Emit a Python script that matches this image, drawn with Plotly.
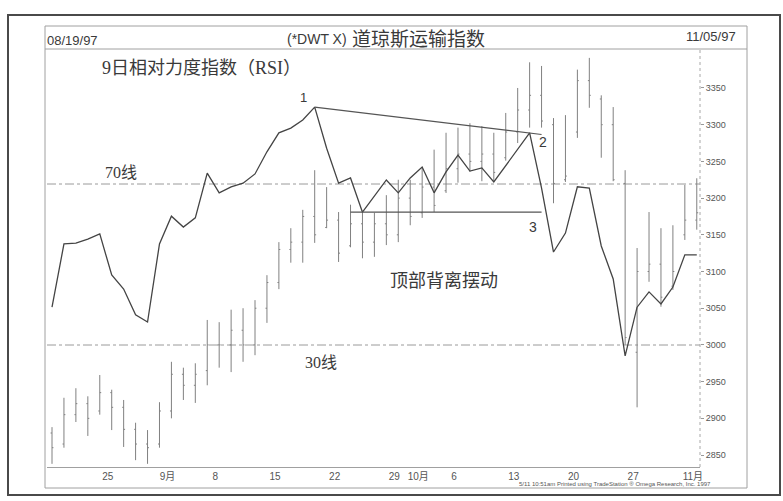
import plotly.graph_objects as go

# ---------------- data ----------------
dates = [
    "1997-08-19", "1997-08-20", "1997-08-21", "1997-08-22", "1997-08-25", "1997-08-26",
    "1997-08-27", "1997-08-28", "1997-08-29", "1997-09-02", "1997-09-03", "1997-09-04",
    "1997-09-05", "1997-09-08", "1997-09-09", "1997-09-10", "1997-09-11", "1997-09-12",
    "1997-09-15", "1997-09-16", "1997-09-17", "1997-09-18", "1997-09-19", "1997-09-22",
    "1997-09-23", "1997-09-24", "1997-09-25", "1997-09-26", "1997-09-29", "1997-09-30",
    "1997-10-01", "1997-10-02", "1997-10-03", "1997-10-06", "1997-10-07", "1997-10-08",
    "1997-10-09", "1997-10-10", "1997-10-13", "1997-10-14", "1997-10-15", "1997-10-16",
    "1997-10-17", "1997-10-20", "1997-10-21", "1997-10-22", "1997-10-23", "1997-10-24",
    "1997-10-27", "1997-10-28", "1997-10-29", "1997-10-30", "1997-10-31", "1997-11-03",
    "1997-11-04",
]

price_high = [
    2888, 2928, 2941, 2930, 2959, 2939, 2925, 2894, 2884, 2922, 2977, 2969,
    2975, 3034, 3031, 3048, 3050, 3061, 3095, 3140, 3159, 3184, 3238, 3215,
    3181, 3191, 3181, 3180, 3204, 3225, 3225, 3242, 3266, 3289, 3296, 3302,
    3298, 3289, 3316, 3350, 3385, 3380, 3309, 3313, 3375, 3391, 3340, 3324,
    3238, 3132, 3181, 3159, 3163, 3218, 3227,
]
price_low = [
    2838, 2860, 2895, 2876, 2905, 2884, 2861, 2843, 2838, 2860, 2900, 2925,
    2921, 2945, 2969, 2963, 2977, 2986, 3030, 3076, 3112, 3112, 3139, 3159,
    3113, 3133, 3118, 3120, 3136, 3140, 3163, 3173, 3181, 3207, 3221, 3236,
    3223, 3223, 3251, 3275, 3296, 3296, 3193, 3222, 3282, 3323, 3255, 3223,
    3000, 2915, 3086, 3052, 3075, 3143, 3157,
]
price_open = [
    2880, 2865, 2905, 2920, 2910, 2935, 2915, 2885, 2865, 2865, 2910, 2960,
    2945, 2965, 3000, 3000, 3020, 3000, 3050, 3085, 3130, 3140, 3175, 3160,
    3170, 3135, 3165, 3140, 3165, 3150, 3200, 3180, 3215, 3210, 3240, 3260,
    3250, 3260, 3255, 3290, 3320, 3340, 3300, 3225, 3290, 3360, 3335, 3300,
    3220, 2990, 3100, 3110, 3080, 3150, 3170,
]
price_close = [
    2860, 2905, 2920, 2900, 2935, 2915, 2885, 2865, 2860, 2910, 2960, 2945,
    2960, 3000, 3000, 3020, 3000, 3050, 3085, 3130, 3140, 3175, 3150, 3170,
    3125, 3165, 3140, 3165, 3150, 3200, 3175, 3215, 3190, 3240, 3260, 3250,
    3260, 3235, 3290, 3320, 3340, 3305, 3220, 3230, 3360, 3340, 3300, 3225,
    3010, 3100, 3110, 3065, 3100, 3170, 3180,
]

rsi9 = [
    39.4, 55.1, 55.3, 56.3, 57.6, 47.4, 43.9, 37.5, 35.7, 55.1, 62.0, 59.3,
    61.6, 72.7, 67.8, 69.3, 70.2, 72.5, 78.0, 82.7, 83.9, 85.9, 89.1, 78.9,
    70.2, 71.5, 63.0, 67.0, 71.0, 67.8, 71.5, 74.2, 67.8, 73.0, 77.2, 73.2,
    74.0, 70.5, 74.5, 78.4, 82.7, 69.0, 53.1, 57.8, 69.3, 69.0, 54.6, 46.4,
    27.3, 39.4, 43.2, 40.2, 44.4, 52.4, 52.4,
]

# divergence trend line (peak 1 -> peak 2) and support line through the swing low
trend_x = ["1997-09-19", "1997-10-16"]
trend_y = [89.1, 82.3]
support_x = ["1997-09-24", "1997-10-16"]
support_y = [63.0, 63.0]

rsi_levels = [70, 30]

x_tick_dates = ["1997-08-25", "1997-09-02", "1997-09-08", "1997-09-15", "1997-09-22",
                "1997-09-29", "1997-10-01", "1997-10-06", "1997-10-13", "1997-10-20",
                "1997-10-27", "1997-11-03"]
x_tick_text = ["25", "9月", "8", "15", "22", "29", "10月", "6", "13", "20", "27", "11月"]
y_ticks = [2850, 2900, 2950, 3000, 3050, 3100, 3150, 3200, 3250, 3300, 3350]

# ---------------- layout helpers ----------------
W, H = 783, 501
L, R, T, B = 47, 83, 49, 34
PW, PH = W - L - R, H - T - B


def px(x):
    return (x - L) / PW


def py(y):
    return (H - B - y) / PH


CJK = "Noto Sans CJK SC"
SERIF = "Liberation Serif, Noto Sans CJK SC"
SANS = "Liberation Sans, Noto Sans CJK SC"
INK = "#3a3a3a"

fig = go.Figure()

fig.add_trace(go.Ohlc(
    x=dates, open=price_open, high=price_high, low=price_low, close=price_close,
    increasing=dict(line=dict(color="#808080", width=1)),
    decreasing=dict(line=dict(color="#808080", width=1)),
    tickwidth=0.12, showlegend=False, hoverinfo="skip", yaxis="y",
))

fig.add_trace(go.Scatter(
    x=dates, y=rsi9, mode="lines", line=dict(color="#444444", width=1.3),
    yaxis="y2", showlegend=False, hoverinfo="skip",
))
fig.add_trace(go.Scatter(
    x=trend_x, y=trend_y, mode="lines", line=dict(color="#555555", width=1.2),
    yaxis="y2", showlegend=False, hoverinfo="skip",
))
fig.add_trace(go.Scatter(
    x=support_x, y=support_y, mode="lines", line=dict(color="#555555", width=1.2),
    yaxis="y2", showlegend=False, hoverinfo="skip",
))

shapes = []
for lvl in rsi_levels:
    shapes.append(dict(type="line", xref="paper", yref="y2", x0=0, x1=1, y0=lvl, y1=lvl,
                       line=dict(color="#9a9a9a", width=1, dash="dashdot"), layer="below"))
# outer frame
shapes.append(dict(type="rect", xref="paper", yref="paper", x0=px(8), x1=px(780),
                   y0=py(495), y1=py(15), line=dict(color="#4a4a4a", width=2)))
# inner frame
shapes.append(dict(type="rect", xref="paper", yref="paper", x0=px(45), x1=px(747),
                   y0=py(488), y1=py(26), line=dict(color="#a0a0a0", width=1)))
# header separator
shapes.append(dict(type="line", xref="paper", yref="paper", x0=px(45), x1=px(747),
                   y0=py(49), y1=py(49), line=dict(color="#a0a0a0", width=1)))
# right price scale divider
shapes.append(dict(type="line", xref="paper", yref="paper", x0=1, x1=1,
                   y0=0, y1=1, line=dict(color="#a8a8a8", width=1, dash="dot")))

annotations = [
    dict(text="08/19/97", x=px(45), y=py(40), xanchor="left", yanchor="middle",
         font=dict(family=SANS, size=13, color=INK)),
    dict(text="(*DWT X)", x=px(349), y=py(39), xanchor="right", yanchor="middle",
         font=dict(family=SANS, size=14, color=INK)),
    dict(text="道琼斯运输指数", x=px(350), y=py(38), xanchor="left", yanchor="middle",
         font=dict(family=CJK, size=19, color=INK)),
    dict(text="11/05/97", x=px(738), y=py(36), xanchor="right", yanchor="middle",
         font=dict(family=SANS, size=13, color=INK)),
    dict(text="9日相对力度指数（RSI）", x=px(100), y=py(68), xanchor="left", yanchor="middle",
         font=dict(family=SERIF, size=18, color=INK)),
    dict(text="70线", x=px(103), y=py(172), xanchor="left", yanchor="middle",
         font=dict(family=SERIF, size=16, color=INK)),
    dict(text="30线", x=px(303), y=py(362), xanchor="left", yanchor="middle",
         font=dict(family=SERIF, size=16, color=INK)),
    dict(text="顶部背离摆动", x=px(388), y=py(279), xanchor="left", yanchor="middle",
         font=dict(family=CJK, size=18, color=INK)),
    dict(text="1", x=px(303), y=py(97), xanchor="center", yanchor="middle",
         font=dict(family=SANS, size=13, color=INK)),
    dict(text="2", x=px(543), y=py(142), xanchor="center", yanchor="middle",
         font=dict(family=SANS, size=14, color=INK)),
    dict(text="3", x=px(533), y=py(227), xanchor="center", yanchor="middle",
         font=dict(family=SANS, size=14, color=INK)),
    dict(text="5/11 10:51am Printed using TradeStation ® Omega Research, Inc. 1997",
         x=px(517), y=py(484), xanchor="left", yanchor="middle",
         font=dict(family=SANS, size=6, color="#555555")),
]
for a in annotations:
    a.update(xref="paper", yref="paper", showarrow=False)

fig.update_layout(
    width=W, height=H,
    margin=dict(l=L, r=R, t=T, b=B, autoexpand=False),
    paper_bgcolor="white", plot_bgcolor="white",
    showlegend=False,
    xaxis=dict(
        type="category", range=[-0.42, 54.27], rangeslider=dict(visible=False),
        tickmode="array", tickvals=x_tick_dates, ticktext=x_tick_text,
        tickfont=dict(family=SANS, size=10, color="#555555"), ticklabelshift=8,
        ticklabelstandoff=0,
        showgrid=False, zeroline=False, showline=True, linecolor="#a0a0a0", ticks="",
    ),
    yaxis=dict(
        side="right", range=[2833.7, 3403.1], tickmode="array", tickvals=y_ticks,
        ticks="outside", ticklen=3, tickcolor="#999999",
        tickfont=dict(family=SANS, size=9, color="#555555"),
        showgrid=False, zeroline=False, showline=False,
    ),
    yaxis2=dict(overlaying="y", range=[-0.31, 103.54], visible=False),
    shapes=shapes, annotations=annotations,
)

fig.write_html("out.html", config={"displayModeBar": False},
               post_script="document.body.style.margin='0px';")
